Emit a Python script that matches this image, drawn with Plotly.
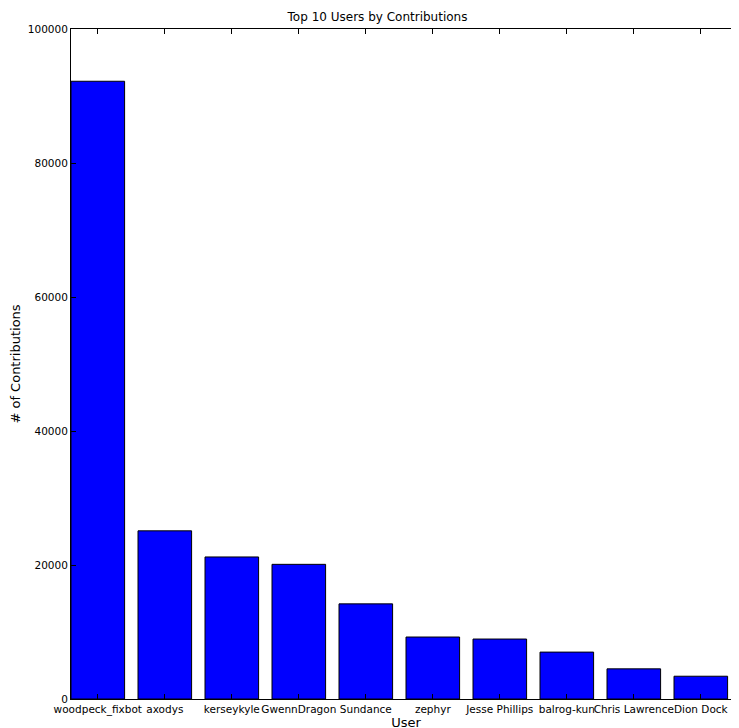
import plotly.graph_objects as go

users = ["woodpeck_fixbot", "axodys", "kerseykyle", "GwennDragon", "Sundance",
         "zephyr", "Jesse Phillips", "balrog-kun", "Chris Lawrence", "Dion Dock"]
contributions = [92200, 25100, 21200, 20100, 14200, 9250, 8950, 7000, 4500, 3400]

pos = [i + 0.4 for i in range(len(users))]

fig = go.Figure(go.Bar(
    x=pos, y=contributions, width=0.8,
    marker=dict(color="#0000ff", line=dict(color="black", width=1)),
))

axis_common = dict(showgrid=False, zeroline=False, showline=True, linecolor="black",
                   linewidth=1, mirror="ticks", ticks="inside", ticklen=5,
                   tickcolor="black", automargin=False,
                   tickfont=dict(size=10.5, color="black"))

fig.update_layout(
    width=739, height=728,
    paper_bgcolor="white", plot_bgcolor="white",
    font=dict(family="DejaVu Sans", size=10.5, color="black"),
    margin=dict(l=63, r=6, t=21, b=37),
    title=dict(text="Top 10 Users by Contributions", x=0.5, xanchor="center",
               y=1, yref="container", yanchor="top", pad=dict(t=5), font=dict(size=12)),
    xaxis=dict(range=[0, 10], tickvals=pos, ticktext=users, tickangle=0,
               title=dict(text="User", standoff=2), **axis_common),
    yaxis=dict(range=[0, 100000], tickvals=[0, 20000, 40000, 60000, 80000, 100000],
               tickformat="d", title=dict(text="# of Contributions", standoff=8),
               **axis_common),
    showlegend=False,
)

fig.write_html("out.html")
